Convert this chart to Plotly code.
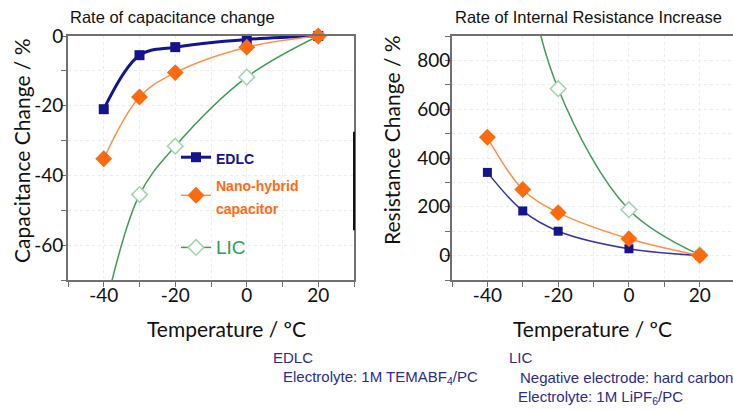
import plotly.graph_objects as go

# ---------------- data ----------------
temps = [-40, -30, -20, 0, 20]

cap_edlc = [-21.0, -5.5, -3.2, -1.0, 0.0]
cap_nano = [-35.2, -17.5, -10.5, -3.2, 0.0]
cap_lic = [-80.0, -45.5, -31.6, -11.8, 0.0]

res_edlc = [341, 183, 100, 28, 0]
res_nano = [485, 271, 176, 69, 0]
res_lic = [2300, 1250, 684, 188, 3]

x_ticks = [-40, -20, 0, 20]
x_labels = ["-40", "-20", "0", "20"]
cap_ticks = [0, -20, -40, -60]
cap_labels = ["0", "-20", "-40", "-60"]
res_ticks = [0, 200, 400, 600, 800]
res_labels = ["0", "200", "400", "600", "800"]

series_names = ["EDLC", "Nano-hybrid<br>capacitor", "LIC"]

# ---------------- styles ----------------
NAVY = "#14148f"
NAVY2 = "#3434a0"
ORANGE_M = "#ff6a10"
ORANGE_L = "#ff9048"
GREEN_L = "#3f9c55"
GREEN_M = "#9fd4ae"
TEXT_NAVY = "#2c2c8c"
AX = "#707070"
GRID = "#ececec"
FONT = "Lato"

fig = go.Figure()

# left chart (capacitance)
fig.add_trace(go.Scatter(
    x=temps, y=cap_lic, xaxis="x", yaxis="y", mode="lines+markers",
    line=dict(color=GREEN_L, width=1.5, shape="spline"),
    marker=dict(symbol="diamond", size=12, color="white", line=dict(color=GREEN_M, width=1.5)),
    name="<span style='font-size:19px;color:#2aa05a'>" + series_names[2] + "</span>",
    legendrank=3, legendgroup="b", cliponaxis=True))
fig.add_trace(go.Scatter(
    x=temps, y=cap_edlc, xaxis="x", yaxis="y", mode="lines+markers",
    line=dict(color=NAVY, width=3, shape="spline"),
    marker=dict(symbol="square", size=10, color=NAVY),
    name="<span style='font-size:14px;color:#14148f'><b>" + series_names[0] + "</b></span>",
    legendrank=1, legendgroup="a", cliponaxis=False))
fig.add_trace(go.Scatter(
    x=temps, y=cap_nano, xaxis="x", yaxis="y", mode="lines+markers",
    line=dict(color=ORANGE_L, width=1.5, shape="spline"),
    marker=dict(symbol="diamond", size=13, color=ORANGE_M),
    name="<span style='font-size:14px;color:#ff6a10'><b>" + series_names[1].replace("<br>", "</b></span><br><span style='font-size:14px;color:#ff6a10'><b>") + "</b></span>",
    legendrank=2, legendgroup="a", cliponaxis=False))

# right chart (resistance)
fig.add_trace(go.Scatter(
    x=temps, y=res_lic, xaxis="x2", yaxis="y2", mode="lines+markers",
    line=dict(color=GREEN_L, width=1.5, shape="spline"),
    marker=dict(symbol="diamond", size=12, color="white", line=dict(color=GREEN_M, width=1.5)),
    showlegend=False, cliponaxis=True))
fig.add_trace(go.Scatter(
    x=temps, y=res_edlc, xaxis="x2", yaxis="y2", mode="lines+markers",
    line=dict(color=NAVY2, width=1.5, shape="spline"),
    marker=dict(symbol="square", size=9, color=NAVY),
    showlegend=False, cliponaxis=False))
fig.add_trace(go.Scatter(
    x=temps, y=res_nano, xaxis="x2", yaxis="y2", mode="lines+markers",
    line=dict(color=ORANGE_L, width=1.5, shape="spline"),
    marker=dict(symbol="diamond", size=13, color=ORANGE_M),
    showlegend=False, cliponaxis=False))

tickfont = dict(family=FONT, size=19, color="#111")

def xax(domain, rng):
    return dict(domain=domain, range=rng, tickvals=x_ticks, ticktext=x_labels,
                ticks="outside", ticklen=5, tickcolor=AX, tickwidth=1.2,
                minor=dict(dtick=10, tick0=0, ticks="outside", ticklen=5, tickcolor=AX,
                           showgrid=True, gridcolor=GRID, griddash="dot", gridwidth=1),
                showgrid=True, gridcolor=GRID, griddash="dot", gridwidth=1,
                showline=True, linecolor=AX, linewidth=1.6, mirror=True,
                zeroline=False, tickfont=tickfont, ticklabelstandoff=-8, automargin=False)

def yax(domain, rng, tv, tt, minor_dt, anchor, standoff):
    return dict(domain=domain, range=rng, tickvals=tv, ticktext=tt,
                ticks="outside", ticklen=5, tickcolor=AX, tickwidth=1.2, anchor=anchor,
                minor=dict(dtick=minor_dt, tick0=0, ticks="outside", ticklen=5, tickcolor=AX,
                           showgrid=True, gridcolor=GRID, griddash="dot", gridwidth=1),
                showgrid=True, gridcolor=GRID, griddash="dot", gridwidth=1,
                showline=True, linecolor=AX, linewidth=1.6, mirror=True,
                zeroline=False, tickfont=tickfont, ticklabelstandoff=standoff, automargin=False)

ydom = [1 - 280 / 410, 1 - 36 / 410]
fig.update_layout(
    template="none",
    width=733, height=410, margin=dict(l=0, r=0, t=0, b=0, autoexpand=False),
    paper_bgcolor="white", plot_bgcolor="white",
    xaxis=dict(**xax([68 / 733, 354 / 733], [-50, 30]), anchor="y"),
    yaxis=yax(ydom, [-70, 0], cap_ticks, cap_labels, 10, "x", -6),
    xaxis2=dict(**xax([452 / 733, 1.0], [-50, 29.4]), anchor="y2"),
    yaxis2=yax(ydom, [-100, 900], res_ticks, res_labels, 100, "x2", -9),
    showlegend=True,
    legend=dict(x=176 / 733, y=1 - 139 / 410, xanchor="left", yanchor="top",
                bgcolor="rgba(0,0,0,0)", borderwidth=0,
                font=dict(family="Liberation Sans", size=18),
                traceorder="grouped", tracegroupgap=14, itemwidth=30),
    shapes=[dict(type="line", xref="x domain", yref="y", x0=1, x1=1, y0=-27.5, y1=-55.7,
                 line=dict(color="#111", width=2))],
)

ann = []
def A(text, x, y, size, color="#111", family="Liberation Sans", xanchor="center", textangle=0):
    ann.append(dict(text=text, x=x / 733, y=1 - y / 410, xref="paper", yref="paper",
                    showarrow=False, xanchor=xanchor, yanchor="middle", textangle=textangle,
                    font=dict(family=family, size=size, color=color)))

A("Rate of capacitance change", 172, 17, 16.5)
A("Rate of Internal Resistance Increase", 588, 17, 16.5)
A("Capacitance Change / %", 21, 151, 21, family=FONT, textangle=-90)
A("Resistance Change / %", 391, 140, 21, family=FONT, textangle=-90)
A("Temperature / ºC", 226, 328, 21, family=FONT)
A("Temperature / ºC", 592, 328, 21, family=FONT)
A("EDLC", 271, 357, 15, TEXT_NAVY, xanchor="left")
A("Electrolyte: 1M TEMABF<sub>4</sub>/PC", 281, 377, 15, TEXT_NAVY, xanchor="left")
A("LIC", 507, 357, 15, TEXT_NAVY, xanchor="left")
A("Negative electrode: hard carbon", 518, 377, 15, TEXT_NAVY, xanchor="left")
A("Electrolyte: 1M LiPF<sub>6</sub>/PC", 516, 397, 15, TEXT_NAVY, xanchor="left")
fig.update_layout(annotations=ann)

fig.write_html("out.html", config={"displayModeBar": False},
               post_script="document.body.style.margin='0';document.body.style.overflow='hidden';")
